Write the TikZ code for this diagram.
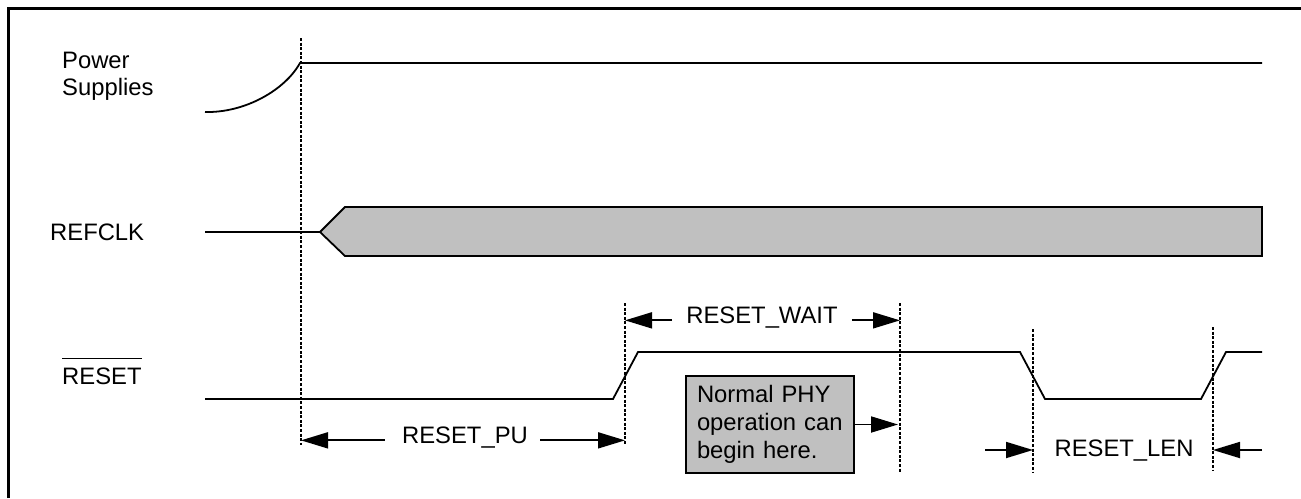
\documentclass[tikz,border=0pt]{standalone}
\usepackage{fontspec}
\setmainfont{Liberation Sans}
\usetikzlibrary{arrows.meta}
\definecolor{siggray}{HTML}{C0C0C0}
\tikzset{
  lbl/.style={inner sep=0pt, font=\fontsize{23.8}{28}\selectfont},
  wave/.style={line width=1.8pt, line join=miter},
  marker/.style={line width=2.4pt, dash pattern=on 3pt off 1.6pt},
  dim/.style={line width=1.8pt, -{Triangle[length=27pt,width=16pt]}},
  notebox/.style={draw, line width=2pt, fill=siggray, inner xsep=11pt,
    text width=146pt, minimum height=97pt, align=left, anchor=north west,
    font=\fontsize{23.8}{28}\selectfont},
}
\begin{document}
\begin{tikzpicture}[x=1pt, y=-1pt]
\useasboundingbox (0,0) rectangle (1301,498);

% outer frame (left and top edges)
\draw[line width=2.5pt] (8.7,498) -- (8.7,8.7) -- (1301,8.7);

% signal names
\node[lbl, anchor=base west] (pwr) at (62,68) {Power};
\node[lbl, anchor=base west] (sup) at (62,95) {Supplies};
\node[lbl, anchor=base west] (clk) at (50,240) {REFCLK};
\node[lbl, anchor=base west] (rst) at (62,384) {RESET};
\draw[line width=1.6pt] ([yshift=8.5pt]rst.north west) -- ([yshift=8.5pt]rst.north east);

% power supply ramp and plateau
\draw[wave] (205,112) .. controls (245,113) and (285,90) .. (300,63) -- (1262,63);

% reference clock: idle, then running
\draw[wave] (205,232) -- (320,232);
\draw[wave, fill=siggray] (320,232) -- (345,207) -- (1262,207) -- (1262,256) -- (345,256) -- cycle;

% reset line
\draw[wave] (205,399) -- (613,399) -- (638,352) -- (1020,352) -- (1045,399)
  -- (1201,399) -- (1226,352) -- (1262,352);

% timing markers
\coordinate (m1t) at (301,38);   \coordinate (m1b) at (301,445);
\coordinate (m2t) at (625,303);  \coordinate (m2b) at (625,445);
\coordinate (m3t) at (900,303);  \coordinate (m3b) at (900,473);
\coordinate (m4t) at (1033,329); \coordinate (m4b) at (1033,472);
\coordinate (m5t) at (1213,327); \coordinate (m5b) at (1213,470);
\foreach \m in {1,...,5} \draw[marker] (m\m t) -- (m\m b);

% RESET_PU
\node[lbl, anchor=base] (pu) at (465,443) {RESET\_PU};
\draw[dim] ([xshift=-17pt]pu.mid west) -- (m1b |- pu.mid west);
\draw[dim] ([xshift=12pt]pu.mid east) -- (m2b |- pu.mid east);

% RESET_WAIT
\node[lbl, anchor=base] (wait) at (762,323) {RESET\_WAIT};
\draw[dim] ([xshift=-14pt]wait.mid west) -- (m2t |- wait.mid west);
\draw[dim] ([xshift=14pt]wait.mid east) -- (m3t |- wait.mid east);

% note on normal operation
\node[notebox] (note) at (685,375) {Normal PHY\\operation can\\begin here.};
\draw[dim] (note.east) -- ([xshift=-2pt]note.east -| m3b);

% RESET_LEN
\node[lbl, anchor=base] (len) at (1124,456) {RESET\_LEN};
\coordinate (lenl) at (985,450);
\coordinate (lenr) at (1262,450);
\draw[dim] (lenl) -- (m4b |- lenl);
\draw[dim] (lenr) -- (m5b |- lenr);
\end{tikzpicture}
\end{document}
